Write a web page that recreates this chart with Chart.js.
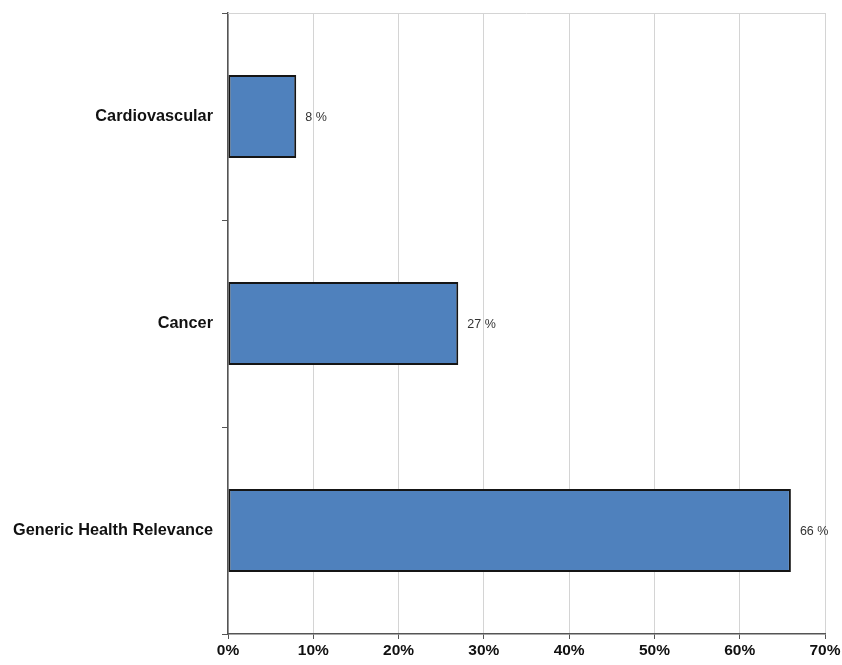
<!DOCTYPE html>
<html>
<head>
<meta charset="utf-8">
<script src="https://cdn.jsdelivr.net/npm/chart.js@4/dist/chart.umd.min.js"></script>
<style>
  html, body { margin: 0; padding: 0; background: #fff; }
  #wrap { width: 842px; height: 665px; }
</style>
</head>
<body>
<div id="wrap"><canvas id="c" width="842" height="665"></canvas></div>
<script>
// Share of articles by health topic (percent)
const categories = ['Cardiovascular', 'Cancer', 'Generic Health Relevance'];
const shares = [8, 27, 66];
const xTicks = [0, 10, 20, 30, 40, 50, 60, 70];

const FONT = '"Liberation Sans", Arial, sans-serif';

// Value labels to the right of each bar
const valueLabels = {
  id: 'valueLabels',
  afterDatasetsDraw(chart) {
    const ctx = chart.ctx;
    const meta = chart.getDatasetMeta(0);
    ctx.save();
    ctx.font = '12.5px ' + FONT;
    ctx.fillStyle = '#333';
    ctx.textAlign = 'left';
    ctx.textBaseline = 'middle';
    meta.data.forEach((bar, i) => {
      ctx.fillText(Math.round(shares[i]) + ' %', bar.x + 9, bar.y + 1);
    });
    ctx.restore();
  }
};

// Thin frame line along the top of the plot area
const topFrame = {
  id: 'topFrame',
  beforeDatasetsDraw(chart) {
    const { ctx, chartArea } = chart;
    ctx.save();
    ctx.strokeStyle = '#d4d4d4';
    ctx.lineWidth = 1;
    ctx.beginPath();
    ctx.moveTo(chartArea.left, chartArea.top + 0.5);
    ctx.lineTo(chartArea.right, chartArea.top + 0.5);
    ctx.stroke();
    ctx.restore();
  }
};

new Chart(document.getElementById('c'), {
  type: 'bar',
  data: {
    labels: categories,
    datasets: [{
      data: shares,
      backgroundColor: '#4F81BD',
      borderColor: '#151515',
      borderWidth: 2,
      borderSkipped: false,
      categoryPercentage: 0.4,
      barPercentage: 1.0
    }]
  },
  options: {
    indexAxis: 'y',
    responsive: false,
    animation: false,
    devicePixelRatio: 1,
    layout: { padding: { top: 13, right: 17, left: 0, bottom: 0 } },
    plugins: {
      legend: { display: false },
      tooltip: { enabled: false }
    },
    scales: {
      x: {
        type: 'linear',
        min: xTicks[0],
        max: xTicks[xTicks.length - 1],
        afterBuildTicks(scale) {
          scale.ticks = xTicks.map(v => ({ value: v }));
        },
        afterFit(scale) {
          scale.height = 31;
          scale.paddingLeft = 0;
          scale.paddingRight = 0;
        },
        grid: {
          color: '#d4d4d4',
          lineWidth: 1,
          drawTicks: true,
          tickLength: 5,
          tickColor: '#555'
        },
        border: { display: true, color: '#555', width: 1.5 },
        ticks: {
          padding: 2,
          color: '#111',
          font: { family: FONT, size: 15.5, weight: 'bold' },
          callback: v => v + '%'
        }
      },
      y: {
        type: 'category',
        offset: true,
        afterFit(scale) {
          scale.width = 228;
          scale.paddingTop = 0;
          scale.paddingBottom = 0;
        },
        grid: {
          offset: true,
          drawOnChartArea: false,
          drawTicks: true,
          tickLength: 6,
          color: '#555',
          tickColor: '#555'
        },
        border: { display: true, color: '#555', width: 1.5 },
        ticks: {
          padding: 9,
          color: '#111',
          font: { family: FONT, size: 16.3, weight: 'bold' }
        }
      }
    }
  },
  plugins: [topFrame, valueLabels]
});
</script>
</body>
</html>
